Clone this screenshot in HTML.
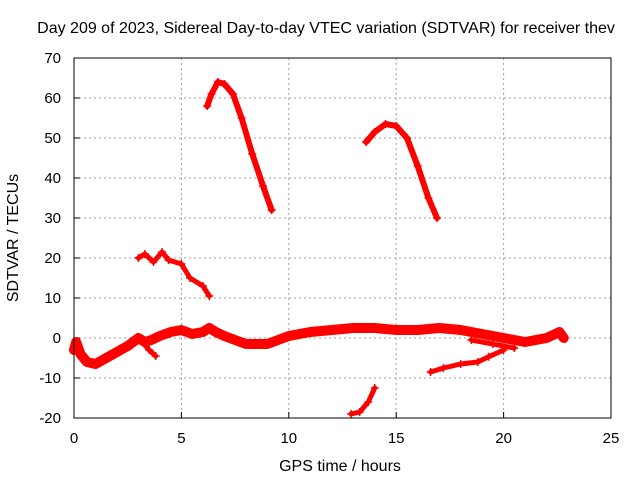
<!DOCTYPE html>
<html><head><meta charset="utf-8"><style>
body{margin:0;background:#fff}
text{font-family:"Liberation Sans",sans-serif;font-size:15px;fill:#000}
.big{font-size:16px}
</style></head><body>
<svg id="c" width="640" height="480" viewBox="0 0 640 480">
<text class="big" x="326" y="33" text-anchor="middle">Day 209 of 2023, Sidereal Day-to-day VTEC variation (SDTVAR) for receiver thev</text>
<text class="big" x="340" y="471" text-anchor="middle">GPS time / hours</text>
<text class="big" transform="translate(18,238) rotate(-90)" text-anchor="middle">SDTVAR / TECUs</text>
<g id="grid"></g><g id="series"></g>
<rect x="74" y="58" width="537" height="360" fill="none" stroke="#000"/>
</svg>
<script>
const xTicks=[0,5,10,15,20,25];
const yTicks=[-20,-10,0,10,20,30,40,50,60,70];
const seriesMain=[[0,-3],[0.1,-1],[0.3,-4],[0.6,-6],[1,-6.5],[1.5,-5],[2,-3.5],[2.5,-2],[3,0],[3.3,-1],[3.6,-0.5],[4,0.5],[4.5,1.5],[5,2],[5.5,1],[6,1.5],[6.3,2.5],[6.6,1.5],[7,0.5],[7.5,-0.5],[8,-1.5],[9,-1.5],[9.5,-0.5],[10,0.5],[11,1.5],[12,2],[13,2.5],[14,2.5],[15,2],[16,2],[17,2.5],[18,2],[19,1],[20,0],[21,-1],[22,0],[22.6,1.5],[22.8,0]];
const seriesDip=[[3,0],[3.5,-3],[3.8,-4.5]];
const seriesBranch=[[18.5,-0.5],[19.5,-1.5],[20.5,-2.5]];
const seriesLow=[[16.6,-8.5],[17.2,-7.5],[18,-6.5],[18.8,-6],[19.3,-4.7],[20,-3]];
const seriesDeep=[[12.9,-19],[13.3,-18.5],[13.7,-16],[14,-12.5]];
const seriesPeak1=[[6.2,58],[6.4,61],[6.7,64],[7,63.5],[7.4,61],[7.8,55],[8.3,46],[8.8,38],[9.2,32]];
const seriesPeak2=[[13.6,49],[14,51.5],[14.5,53.5],[15,53],[15.5,50],[16,43],[16.5,35],[16.9,30]];
const seriesMid=[[3,20],[3.3,21],[3.7,19],[4.1,21.5],[4.4,19.5],[5,18.5],[5.4,15],[6,13],[6.3,10.5]];
const allSeries=[[seriesMain,10,'series-main'],[seriesDip,5,'series-dip'],[seriesBranch,5,'series-branch'],[seriesLow,5,'series-low'],[seriesDeep,5,'series-deep'],[seriesPeak1,6,'series-peak-1'],[seriesPeak2,6,'series-peak-2'],[seriesMid,5,'series-mid']];
const X=v=>74+v*537/25, Y=v=>418-(v+20)*4;
const NS='http://www.w3.org/2000/svg';
const grid=document.getElementById('grid'), ser=document.getElementById('series');
function mk(tag,at,p){const e=document.createElementNS(NS,tag);for(const k in at)e.setAttribute(k,at[k]);p.appendChild(e);return e;}
xTicks.forEach(t=>{
 if(t>0&&t<25){const l=mk('line',{x1:X(t),x2:X(t),y1:58,y2:418,stroke:'#a0a0a0','stroke-dasharray':'2,3'},grid);
 
 }
 const s=mk('text',{x:X(t),y:443,'text-anchor':'middle'},grid);s.textContent=t;
 
 
 mk('line',{x1:X(t),x2:X(t),y1:418,y2:412,stroke:'#000'},grid);
});
yTicks.forEach(t=>{
 if(t>-20&&t<70){const l=mk('line',{x1:74,x2:611,y1:Y(t),y2:Y(t),stroke:'#a0a0a0','stroke-dasharray':'2,3'},grid);
 
 }
 const s=mk('text',{x:61,y:Y(t)+5,'text-anchor':'end'},grid);s.textContent=t;
 
 
 mk('line',{x1:74,x2:80,y1:Y(t),y2:Y(t),stroke:'#000'},grid);
});
allSeries.forEach(([d,w,n])=>{
 const g=mk('g',{},ser);
 
 
 mk('polyline',{points:d.map(p=>X(p[0])+','+Y(p[1])).join(' '),fill:'none',stroke:'#f00','stroke-width':w,'stroke-linejoin':'round','stroke-linecap':'round'},g);
 d.forEach(p=>{const m=mk('path',{d:`M${X(p[0])-4},${Y(p[1])}h8M${X(p[0])},${Y(p[1])-4}v8`,stroke:'#f00','stroke-width':1.5},g);
 
 });
});
</script>
</body></html>
